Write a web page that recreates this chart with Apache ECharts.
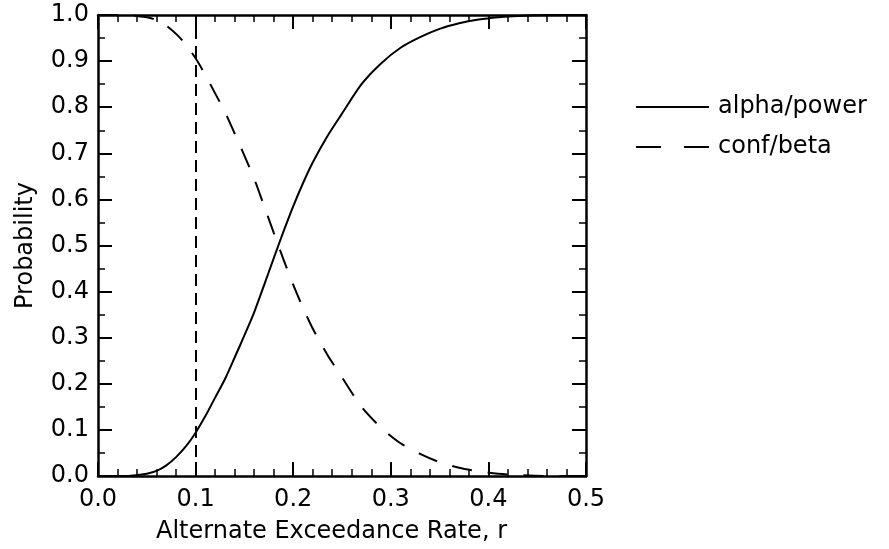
<!DOCTYPE html>
<html>
<head>
<meta charset="utf-8">
<title>Alpha/power and conf/beta vs. alternate exceedance rate</title>
<script src="https://cdn.jsdelivr.net/npm/echarts@6/dist/echarts.min.js"></script>
<style>
  html, body { margin: 0; padding: 0; background: #fff; }
  #chart { width: 889px; height: 549px; }
</style>
</head>
<body>
<div id="chart"></div>
<script>
// Alternate exceedance rate r (x values)
const rates = [0.00, 0.03, 0.04, 0.05, 0.06, 0.07, 0.08, 0.09, 0.10, 0.11, 0.12, 0.13, 0.14,
               0.15, 0.16, 0.17, 0.18, 0.19, 0.20, 0.21, 0.22, 0.235, 0.25, 0.27, 0.29, 0.31,
               0.33, 0.35, 0.37, 0.39, 0.41, 0.43, 0.46, 0.50];
// Probability curves
const alphaPower = [0.000, 0.000, 0.002, 0.005, 0.011, 0.023, 0.041, 0.064, 0.094, 0.130, 0.170, 0.210, 0.257,
                    0.305, 0.355, 0.413, 0.472, 0.530, 0.585, 0.635, 0.680, 0.737, 0.786, 0.850, 0.895, 0.929,
                    0.952, 0.970, 0.982, 0.990, 0.995, 0.998, 1.000, 1.000];
const confBeta   = [1.000, 1.000, 0.998, 0.995, 0.989, 0.977, 0.959, 0.936, 0.906, 0.870, 0.830, 0.790, 0.743,
                    0.695, 0.645, 0.587, 0.528, 0.470, 0.415, 0.365, 0.320, 0.263, 0.214, 0.150, 0.105, 0.071,
                    0.048, 0.030, 0.018, 0.010, 0.005, 0.002, 0.000, 0.000];
// Decision threshold marked with a vertical dashed line
const thresholdRate = 0.1;
const seriesNames = ['alpha/power', 'conf/beta'];

const FONT = 'DejaVu Sans';
const FONT_SIZE = 24;
const INK = '#000';

const pairs = (ys) => rates.map((r, i) => [r, ys[i]]);

const baseAxis = {
  axisLine: { show: true, onZero: false, lineStyle: { color: INK, width: 2.5 } },
  axisTick: { show: true, inside: true, length: 14, lineStyle: { color: INK, width: 2 } },
  minorTick: { show: true, length: 7, lineStyle: { color: INK, width: 1.5 } },
  splitLine: { show: false },
  minorSplitLine: { show: false }
};

const chart = echarts.init(document.getElementById('chart'), null, { renderer: 'canvas' });

chart.setOption({
  backgroundColor: '#fff',
  animation: false,
  textStyle: { fontFamily: FONT, color: INK },
  grid: { left: 98, top: 15, right: 303, bottom: 72, containLabel: false },
  legend: {
    orient: 'vertical',
    left: 635,
    top: 95,
    padding: 0,
    itemWidth: 73,
    itemHeight: 14,
    itemGap: 16,
    itemStyle: { color: 'rgba(0,0,0,0)', borderWidth: 0, opacity: 0 },
    textStyle: { fontFamily: FONT, fontSize: FONT_SIZE, color: INK, padding: [0, 0, 0, 4] },
    data: [
      { name: seriesNames[0], lineStyle: { type: 'solid', width: 2, color: INK } },
      { name: seriesNames[1], lineStyle: { type: [25, 23], width: 2, color: INK } }
    ]
  },
  xAxis: [
    Object.assign({}, baseAxis, {
      type: 'value', position: 'bottom', min: 0, max: 0.5, interval: 0.1,
      minorTick: Object.assign({}, baseAxis.minorTick, { splitNumber: 5 }),
      axisLabel: { margin: 12, fontFamily: FONT, fontSize: FONT_SIZE, color: INK,
                   formatter: (v) => v.toFixed(1) },
      name: 'Alternate Exceedance Rate, r',
      nameLocation: 'middle', nameGap: 44,
      nameTextStyle: { fontFamily: FONT, fontSize: FONT_SIZE, color: INK, padding: [0, 21, 0, 0] }
    }),
    Object.assign({}, baseAxis, {
      type: 'value', position: 'top', min: 0, max: 0.5, interval: 0.1,
      minorTick: Object.assign({}, baseAxis.minorTick, { splitNumber: 5 }),
      axisLabel: { show: false }
    })
  ],
  yAxis: [
    Object.assign({}, baseAxis, {
      type: 'value', position: 'left', min: 0, max: 1, interval: 0.1,
      minorTick: Object.assign({}, baseAxis.minorTick, { splitNumber: 2 }),
      axisLabel: { margin: 9, fontFamily: FONT, fontSize: FONT_SIZE, color: INK,
                   formatter: (v) => v.toFixed(1) },
      name: 'Probability',
      nameLocation: 'middle', nameGap: 60, nameRotate: 90,
      nameTextStyle: { fontFamily: FONT, fontSize: FONT_SIZE, color: INK }
    }),
    Object.assign({}, baseAxis, {
      type: 'value', position: 'right', min: 0, max: 1, interval: 0.1,
      minorTick: Object.assign({}, baseAxis.minorTick, { splitNumber: 2 }),
      axisLabel: { show: false }
    })
  ],
  series: [
    {
      name: seriesNames[0],
      type: 'line',
      xAxisIndex: 0, yAxisIndex: 0,
      data: pairs(alphaPower),
      smooth: 0.25,
      symbol: 'none',
      lineStyle: { color: INK, width: 2, type: 'solid' },
      itemStyle: { color: INK },
      markLine: {
        silent: true,
        symbol: ['none', 'none'],
        label: { show: false },
        lineStyle: { color: INK, width: 2, type: [12, 7] },
        data: [{ xAxis: thresholdRate }]
      },
      z: 3
    },
    {
      name: seriesNames[1],
      type: 'line',
      xAxisIndex: 0, yAxisIndex: 0,
      data: pairs(confBeta),
      smooth: 0.25,
      symbol: 'none',
      lineStyle: { color: INK, width: 2, type: [20, 16] },
      itemStyle: { color: INK },
      z: 3
    }
  ]
});
</script>
</body>
</html>
